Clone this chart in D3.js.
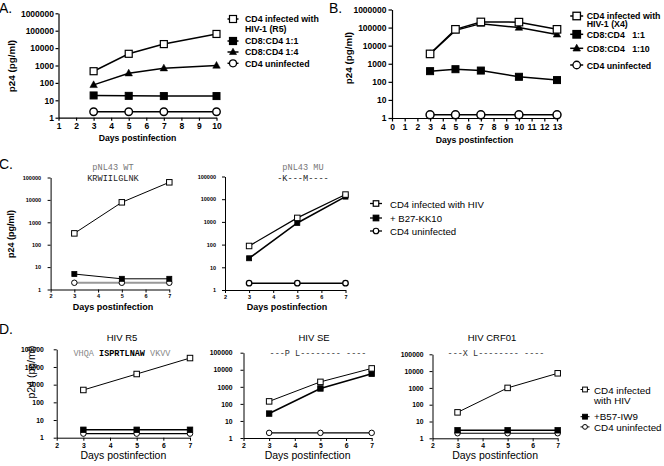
<!DOCTYPE html>
<html><head><meta charset="utf-8">
<script src="https://cdn.jsdelivr.net/npm/d3@7"></script>
<style>
body{margin:0;background:#fff}
svg{display:block}
text{font-family:"Liberation Sans",Arial,Helvetica,sans-serif;fill:#000}
text.mono{font-family:"Liberation Mono","Courier New",Courier,monospace}
</style>
</head><body>
<svg id="c" width="664" height="466"></svg>
<script>
// ---------------- DATA ----------------
const daysA = [3, 5, 7, 10];
const aInfected = [470, 4700, 17000, 65000];
const aCD8_1_1 = [19, 18, 17.5, 17.5];
const aCD8_1_4 = [77, 360, 700, 1000];
const aUninfected = [2.2, 2.2, 2.2, 2.2];
const xTicksA = [1, 2, 3, 4, 5, 6, 7, 8, 9, 10];
const yTicks6 = [1, 10, 100, 1000, 10000, 100000, 1000000];
const legendA = [["CD4 infected with", "HIV-1 (R5)"], ["CD8:CD4 1:1"], ["CD8:CD4 1:4"], ["CD4 uninfected"]];

const daysB = [3, 5, 7, 10, 13];
const bInfected = [3500, 80000, 205000, 200000, 80000];
const bCD8_1_1 = [390, 500, 420, 190, 125];
const bCD8_1_10 = [3500, 70000, 165000, 100000, 42000];
const bUninfected = [1.5, 1.5, 1.5, 1.5, 1.5];
const xTicksB = [0, 1, 2, 3, 4, 5, 6, 7, 8, 9, 10, 11, 12, 13];
const legendB = [["CD4 infected with", "HIV-1 (X4)"], ["CD8:CD4   1:1"], ["CD8:CD4   1:10"], ["CD4 uninfected"]];

const daysCD = [3, 5, 7];
const xTicksCD = [2, 3, 4, 5, 6, 7];
const yTicks5 = [1, 10, 100, 1000, 10000, 100000];

const cWtInfected = [320, 7800, 61000];
const cWtB27 = [4.9, 3, 3];
const cWtUninfected = [2, 2, 2];
const cMuInfected = [87, 1500, 16000];
const cMuB27 = [25, 900, 13000];
const cMuUninfected = [2, 2, 2];
const legendC = [["CD4 infected with HIV"], ["+ B27-KK10"], ["CD4 uninfected"]];

const dR5Infected = [500, 4000, 32000];
const dR5B57 = [2.8, 2.8, 2.8];
const dR5Uninfected = [1.7, 1.7, 1.7];
const dSeInfected = [140, 1950, 12000];
const dSeB57 = [27, 800, 5800];
const dSeUninfected = [2, 2, 2];
const dCrfInfected = [35, 1000, 7400];
const dCrfB57 = [3, 3, 3];
const dCrfUninfected = [2, 2, 2];
const legendD = [["CD4 infected", "with HIV"], ["+B57-IW9"], ["CD4 uninfected"]];

const panelLetters = ["A.", "B.", "C.", "D."];
const yLabel = "p24 (pg/ml)";
const xLabel = "Days postinfection";

// ---------------- DRAWING ----------------
const svg = d3.select("#c");
svg.append("rect").attr("width", 664).attr("height", 466).attr("fill", "#fff");

function marker(g, type, cx, cy, s, fill, sw) {
  if (type === "square") {
    g.append("rect").attr("x", cx - s / 2).attr("y", cy - s / 2).attr("width", s).attr("height", s)
      .attr("fill", fill).attr("stroke", "#000").attr("stroke-width", sw);
  } else if (type === "circle") {
    g.append("circle").attr("cx", cx).attr("cy", cy).attr("r", s / 2)
      .attr("fill", fill).attr("stroke", "#000").attr("stroke-width", sw);
  } else {
    const h = s * 0.9;
    g.append("path").attr("d", `M${cx},${cy - h * 0.6}L${cx + s / 2},${cy + h * 0.4}L${cx - s / 2},${cy + h * 0.4}Z`)
      .attr("fill", fill).attr("stroke", "#000").attr("stroke-width", sw * 0.5);
  }
}

function panel(o) {
  const g = svg.append("g");
  const x = d3.scaleLinear().domain(o.xd).range(o.xr);
  const y = d3.scaleLog().domain(o.yd).range(o.yr);
  const fmt = d3.format("d");
  const ax = g.append("g").attr("transform", `translate(0,${o.yr[0]})`)
    .call(d3.axisBottom(x).tickValues(o.xt).tickSize(o.tk).tickSizeOuter(0).tickPadding(o.xpad).tickFormat(fmt));
  const ay = g.append("g").attr("transform", `translate(${o.xr[0]},0)`)
    .call(d3.axisLeft(y).tickValues(o.yt).tickSize(o.tk).tickSizeOuter(0).tickPadding(o.ypad).tickFormat(fmt));
  [ax, ay].forEach(a => {
    a.attr("font-family", null).attr("font-size", null);
    a.select(".domain").attr("stroke", "#000").attr("stroke-width", o.aw);
    a.selectAll(".tick line").attr("stroke", "#000").attr("stroke-width", o.aw);
    a.selectAll("text").attr("font-size", o.tf).attr("font-weight", "bold").attr("fill", "#000");
  });
  o.series.forEach(s => {
    const pts = s.days.map((d, i) => [x(d), y(s.vals[i])]);
    g.append("path").attr("d", d3.line()(pts)).attr("fill", "none")
      .attr("stroke", s.lc || "#000").attr("stroke-width", s.lw);
    pts.forEach(p => marker(g, s.m, p[0], p[1], s.ms, s.fill, s.sw));
  });
  const cx = (o.xr[0] + o.xr[1]) / 2;
  g.append("text").attr("x", o.xlx || cx).attr("y", o.xly).attr("text-anchor", "middle")
    .attr("font-size", o.lf).attr("font-weight", o.lw8).text(xLabel);
  if (o.yl) {
    g.append("text").attr("transform", `translate(${o.yl[0]},${o.yl[1]}) rotate(-90)`).attr("text-anchor", "middle")
      .attr("font-size", o.lf2 || o.lf).attr("font-weight", o.lw8).text(yLabel);
  }
  return { x, y, g };
}

function legend(items, o) {
  const g = svg.append("g");
  items.forEach(it => {
    g.append("line").attr("x1", o.sx - o.half).attr("x2", o.sx + o.half).attr("y1", it.sy).attr("y2", it.sy)
      .attr("stroke", "#000").attr("stroke-width", o.lw);
    marker(g, it.m, o.sx, it.sy, o.ms, it.fill, o.sw);
    it.lines.forEach((t, i) => {
      g.append("text").attr("x", o.tx).attr("y", it.by[i]).attr("font-size", o.fs)
        .attr("font-weight", o.fw).style("white-space", "pre").text(t);
    });
  });
}

function mono(x, y, size, color, txt) {
  return svg.append("text").attr("class", "mono").attr("x", x).attr("y", y).attr("text-anchor", "middle")
    .attr("font-size", size).style("fill", color).style("white-space", "pre").text(txt);
}

// Panel letters
const letterPos = [[-1, 12.5], [329, 13], [-1, 169], [-1, 334]];
panelLetters.forEach((t, i) => svg.append("text").attr("x", letterPos[i][0]).attr("y", letterPos[i][1])
  .attr("font-size", 14).text(t));

// ---- A ----
panel({
  xd: [1, 10], xr: [58.5, 216.5], yd: [1, 1e6], yr: [117.7, 13.3], xt: xTicksA, yt: yTicks6,
  tk: 3, xpad: 2.5, ypad: 1.5, tf: 8.5, aw: 1.2, lf: 8.7, lf2: 9.8, lw8: "bold", xly: 141, yl: [15, 66],
  series: [
    { days: daysA, vals: aUninfected, m: "circle", fill: "#fff", ms: 7.5, sw: 1.4, lw: 1.5 },
    { days: daysA, vals: aCD8_1_1, m: "square", fill: "#000", ms: 7, sw: 1, lw: 1.5 },
    { days: daysA, vals: aCD8_1_4, m: "tri", fill: "#000", ms: 7.5, sw: 1, lw: 1.5 },
    { days: daysA, vals: aInfected, m: "square", fill: "#fff", ms: 7, sw: 1.2, lw: 1.5 }
  ]
});
legend([
  { lines: legendA[0], m: "square", fill: "#fff", sy: 19, by: [22, 32.2] },
  { lines: legendA[1], m: "square", fill: "#000", sy: 41, by: [44] },
  { lines: legendA[2], m: "tri", fill: "#000", sy: 52, by: [55.3] },
  { lines: legendA[3], m: "circle", fill: "#fff", sy: 63.3, by: [66.6] }
], { sx: 233, half: 5.5, tx: 245, ms: 7, sw: 1.2, lw: 1.5, fs: 8.8, fw: "bold" });

// ---- B ----
panel({
  xd: [0, 13], xr: [392, 557], yd: [1, 1e6], yr: [118, 9.5], xt: xTicksB, yt: yTicks6,
  tk: 3.5, xpad: 2.5, ypad: 2, tf: 8.5, aw: 1.2, lf: 8.7, lf2: 9.8, lw8: "bold", xly: 142.5, yl: [351.5, 58],
  series: [
    { days: daysB, vals: bUninfected, m: "circle", fill: "#fff", ms: 8, sw: 1.5, lw: 1.5 },
    { days: daysB, vals: bCD8_1_1, m: "square", fill: "#000", ms: 7, sw: 1, lw: 1.5 },
    { days: daysB, vals: bCD8_1_10, m: "tri", fill: "#000", ms: 7.5, sw: 1, lw: 1.5 },
    { days: daysB, vals: bInfected, m: "square", fill: "#fff", ms: 7.5, sw: 1.2, lw: 1.5 }
  ]
});
legend([
  { lines: legendB[0], m: "square", fill: "#fff", sy: 16, by: [18.5, 27] },
  { lines: legendB[1], m: "square", fill: "#000", sy: 34.3, by: [37.6] },
  { lines: legendB[2], m: "tri", fill: "#000", sy: 48.3, by: [52] },
  { lines: legendB[3], m: "circle", fill: "#fff", sy: 65, by: [68.5] }
], { sx: 576.7, half: 6.5, tx: 586.7, ms: 7.5, sw: 1.3, lw: 1.5, fs: 8.8, fw: "bold" });

// ---- C left (WT) ----
panel({
  xd: [2, 7], xr: [50.6, 169.3], yd: [1, 1e5], yr: [289.5, 177.5], xt: xTicksCD, yt: yTicks5,
  tk: 3, xpad: 2, ypad: 6.5, tf: 5.5, aw: 1, lf: 9, lw8: "bold", xly: 310, xlx: 113, yl: [13.8, 234],
  series: [
    { days: daysCD, vals: cWtUninfected, m: "circle", fill: "#fff", ms: 5.5, sw: 1, lw: 2, lc: "#999" },
    { days: daysCD, vals: cWtB27, m: "square", fill: "#000", ms: 5, sw: 0.8, lw: 1 },
    { days: daysCD, vals: cWtInfected, m: "square", fill: "#fff", ms: 5.5, sw: 1, lw: 1 }
  ]
});
mono(113, 170, 8.6, "#777", "pNL43 WT");
mono(113, 181, 8.6, "#222", "KRWIILGLNK");

// ---- C right (MU) ----
panel({
  xd: [2, 7], xr: [225, 345.5], yd: [1, 1e5], yr: [290, 176.5], xt: xTicksCD, yt: yTicks5,
  tk: 3, xpad: 2, ypad: 6, tf: 5.5, aw: 1, lf: 9, lw8: "bold", xly: 310, xlx: 287,
  series: [
    { days: daysCD, vals: cMuUninfected, m: "circle", fill: "#fff", ms: 5.5, sw: 1.3, lw: 1.5 },
    { days: daysCD, vals: cMuB27, m: "square", fill: "#000", ms: 5, sw: 0.8, lw: 1.6 },
    { days: daysCD, vals: cMuInfected, m: "square", fill: "#fff", ms: 5.5, sw: 1, lw: 1.2 }
  ]
});
mono(303, 170, 8.6, "#777", "pNL43 MU");
mono(303, 181, 8.6, "#222", "-K---M----");

legend([
  { lines: legendC[0], m: "square", fill: "#fff", sy: 203.5, by: [207.6] },
  { lines: legendC[1], m: "square", fill: "#000", sy: 218, by: [221.8] },
  { lines: legendC[2], m: "circle", fill: "#fff", sy: 231, by: [234.6] }
], { sx: 376, half: 6, tx: 390, ms: 5.5, sw: 1.2, lw: 1.3, fs: 9.6, fw: "normal" });

// ---- D ----
const dPanels = [
  { xr: [56.7, 190], yr: [437.7, 349.3], ypad: 10, yl: [35, 372], inf: dR5Infected, b57: dR5B57, un: dR5Uninfected,
    title: "HIV R5", tx: 122 },
  { xr: [243.5, 371.7], yr: [438, 352.7], ypad: 8, inf: dSeInfected, b57: dSeB57, un: dSeUninfected,
    title: "HIV SE", tx: 314, seq: "---P L-------- ----" },
  { xr: [432.5, 557.7], yr: [438.3, 354.3], ypad: 6, inf: dCrfInfected, b57: dCrfB57, un: dCrfUninfected,
    title: "HIV CRF01", tx: 492, seq: "---X L-------- ----" }
];
dPanels.forEach(p => {
  panel({
    xd: [2, 7], xr: p.xr, yd: [1, 1e5], yr: p.yr, xt: xTicksCD, yt: yTicks5,
    tk: 3, xpad: 2, ypad: p.ypad, tf: 6.8, aw: 1, lf: 10.5, lf2: 10.5, lw8: "normal", xly: 459, yl: p.yl,
    series: [
      { days: daysCD, vals: p.un, m: "circle", fill: "#fff", ms: 5.5, sw: 1, lw: 1.2 },
      { days: daysCD, vals: p.b57, m: "square", fill: "#000", ms: 5.5, sw: 0.8, lw: 1.6 },
      { days: daysCD, vals: p.inf, m: "square", fill: "#fff", ms: 5.5, sw: 1, lw: 1 }
    ]
  });
  svg.append("text").attr("x", p.tx).attr("y", 341).attr("text-anchor", "middle").attr("font-size", 9.5).text(p.title);
  if (p.seq) mono(p.tx + 4, 355.5, 8.5, "#333", p.seq);
});
// R5 sequence with highlighted epitope
const seqT = svg.append("text").attr("class", "mono").attr("x", 122).attr("y", 356).attr("text-anchor", "middle")
  .attr("font-size", 8.5).style("white-space", "pre");
seqT.append("tspan").style("fill", "#888").text("VHQA ");
seqT.append("tspan").style("fill", "#000").attr("font-weight", "bold").text("ISPRTLNAW");
seqT.append("tspan").style("fill", "#888").text(" VKVV");

legend([
  { lines: legendD[0], m: "square", fill: "#fff", sy: 389.5, by: [393.5, 404.2] },
  { lines: legendD[1], m: "square", fill: "#000", sy: 416.7, by: [420.2] },
  { lines: legendD[2], m: "circle", fill: "#fff", sy: 426.9, by: [430.6] }
], { sx: 585, half: 4.5, tx: 594, ms: 4.8, sw: 1, lw: 1, fs: 9.8, fw: "normal" });
</script>
</body></html>
